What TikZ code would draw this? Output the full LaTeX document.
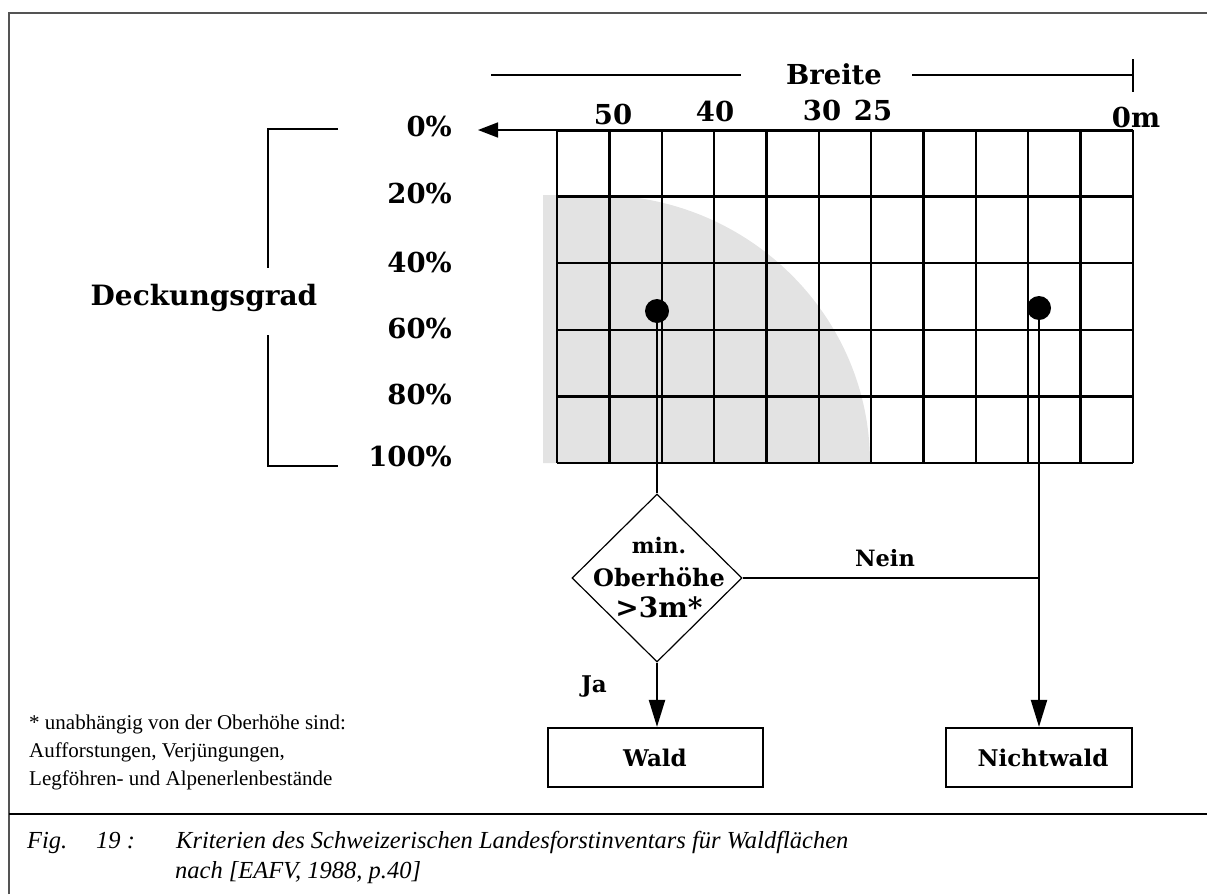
\documentclass[tikz,border=0pt]{standalone}
\usepackage{fontspec}
\setmainfont{Liberation Serif}
\newfontfamily\lblfont{DejaVu Serif}
\usetikzlibrary{arrows.meta,shapes.geometric}
\definecolor{shadegray}{gray}{0.89}
\definecolor{framecol}{gray}{0.33}
\begin{document}
\begin{tikzpicture}[x=1pt,y=-1pt,
  lab/.style={font=\lblfont\bfseries\fontsize{27.5}{30}\selectfont, inner sep=0pt},
  smlab/.style={font=\lblfont\bfseries\fontsize{23}{25}\selectfont, inner sep=0pt},
  gridline/.style={line width=2.3pt},
  conn/.style={line width=2.2pt},
  arr/.style={conn, -{Triangle[length=27pt,width=16pt]}},
  thinline/.style={line width=1.3pt},
  boxnode/.style={draw, line width=2.2pt, inner sep=0pt},
  foot/.style={font=\fontsize{21}{24}\selectfont, anchor=base west, inner sep=0pt},
  captxt/.style={font=\itshape\fontsize{24.5}{27}\selectfont, anchor=base west, inner sep=0pt}
]
\useasboundingbox (0,0) rectangle (1207,894);
% frame
\draw[framecol, line width=2pt] (9,894) -- (9,13) -- (1207,13);
\draw[line width=1.6pt] (9,814) -- (1207,814);

% shaded area
\fill[shadegray] (543,463) -- (543,195) -- (597,195)
  arc[start angle=-90, end angle=0, x radius=273, y radius=268] -- cycle;

% grid
\foreach \i in {0,...,11} {
  \draw[gridline] ({557+\i*52.36},130) -- ({557+\i*52.36},463);
}
\foreach \j in {1,...,5} {
  \draw[gridline] (557,{130+\j*66.6}) -- (1133,{130+\j*66.6});
}
\draw[line width=3pt] (557,130) -- (1133,130);

% axis arrow to the left
\coordinate (gtl) at (557,130);
\coordinate (arrtip) at (478,130);
\draw[line width=1.5pt, -{Triangle[length=20pt,width=15pt]}] (gtl) -- (arrtip);

% Breite
\node[lab] (breite) at (834,74) {Breite};
\coordinate (bl1) at (491,75);
\coordinate (bl2) at (741,75);
\coordinate (br1) at (912,75);
\coordinate (br2) at (1133,75);
\coordinate (bt1) at (1133,59);
\coordinate (bt2) at (1133,92);
\draw[thinline] (bl1) -- (bl2);
\draw[thinline] (br1) -- (br2);
\draw[thinline] (bt1) -- (bt2);

% column labels
\node[lab] (c50) at (613,114) {50};
\node[lab] (c40) at (715,111) {40};
\node[lab] (c30) at (822,110) {30};
\node[lab] (c25) at (873,110) {25};
\node[lab] (c0) at (1136,117) {0m};

% row labels
\node[lab, anchor=east] (r0) at (452,126) {0\%};
\node[lab, anchor=east] (r20) at (452,193) {20\%};
\node[lab, anchor=east] (r40) at (452,262) {40\%};
\node[lab, anchor=east] (r60) at (452,328) {60\%};
\node[lab, anchor=east] (r80) at (452,394) {80\%};
\node[lab, anchor=east] (r100) at (452,456) {100\%};

% Deckungsgrad bracket
\node[lab, font=\lblfont\bfseries\fontsize{28}{30}\selectfont] (deck) at (204,298) {Deckungsgrad};
\coordinate (k1) at (338,129);
\coordinate (k2) at (268,129);
\coordinate (k3) at (268,268);
\coordinate (k4) at (268,335);
\coordinate (k5) at (268,466);
\coordinate (k6) at (338,466);
\draw[thinline] (k1) -- (k2) -- (k3);
\draw[thinline] (k4) -- (k5) -- (k6);

% dots
\node[circle, fill, minimum size=24pt, inner sep=0pt] (d1) at (657,311) {};
\node[circle, fill, minimum size=24pt, inner sep=0pt] (d2) at (1039,308) {};

% decision diamond
\node[diamond, draw, line width=1.2pt, minimum width=170pt, minimum height=168pt, inner sep=0pt] (dec) at (657,578) {};
\node[smlab, anchor=base, font=\lblfont\bfseries\fontsize{21.5}{23}\selectfont] (tmin) at (659,553) {min.};
\node[smlab, anchor=base, font=\lblfont\bfseries\fontsize{24}{26}\selectfont] (tober) at (659,586) {Oberhöhe};
\node[lab, anchor=base, font=\lblfont\bfseries\fontsize{28}{30}\selectfont] (t3m) at (659,617) {>3m*};

% boxes
\node[boxnode, minimum width=215pt, minimum height=59pt] (wald) at (655.5,757.5) {};
\node[boxnode, minimum width=186pt, minimum height=59pt] (nw) at (1039,757.5) {};
\node[smlab, anchor=base] (waldtxt) at (655,766) {Wald};
\node[smlab, anchor=base] (nwtxt) at (1043,766) {Nichtwald};

% connectors
\coordinate (junc) at (dec.east -| d2);
\draw[conn] (d1.center) -- (dec.north);
\draw[conn] (dec.east) -- (junc);
\draw[arr] (d2.center) -- (nw.north);
\draw[arr] (dec.south) -- (dec.south |- wald.north);
\node[smlab, anchor=base, font=\lblfont\bfseries\fontsize{22.5}{24}\selectfont] (nein) at (885,566) {Nein};
\node[smlab, anchor=base] (ja) at (594,692) {Ja};

% footnote
\node[foot] (f1) at (29,729) {* unabhängig von der Oberhöhe sind:};
\node[foot] (f2) at (29,757) {Aufforstungen, Verjüngungen,};
\node[foot] (f3) at (29,785) {Legföhren- und Alpenerlenbestände};

% caption
\node[captxt] (cap1) at (27,848) {Fig.};
\node[captxt] (cap2) at (96,848) {19 :};
\node[captxt] (cap3) at (176,848) {Kriterien des Schweizerischen Landesforstinventars für Waldflächen};
\node[captxt] (cap4) at (175,878) {nach [EAFV, 1988, p.40]};
\end{tikzpicture}
\end{document}
